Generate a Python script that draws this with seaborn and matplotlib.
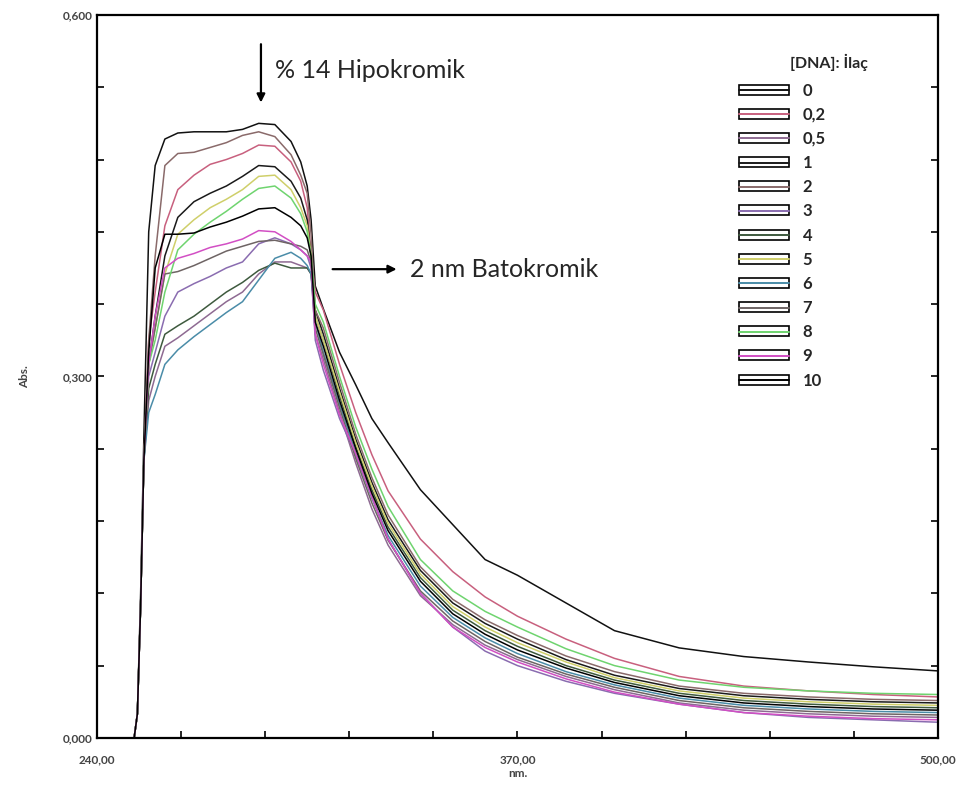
import numpy as np
import pandas as pd
import seaborn as sns
import matplotlib.pyplot as plt
from matplotlib.patches import Rectangle
from matplotlib.lines import Line2D

# wavelength grid (nm)
nm = [251.5, 252.5, 253.5, 254.5, 256, 258, 261, 265, 270, 275, 280, 285, 290, 295,
      300, 303, 305, 306.2, 307.5, 310, 315, 320, 325, 330, 340, 350, 360, 370, 385,
      400, 420, 440, 460, 480, 500]

# absorbance for each [DNA]:ilac ratio
abs_0 = [0, 0.02, 0.12, 0.25, 0.42, 0.475, 0.497, 0.502, 0.503, 0.503, 0.503, 0.505, 0.51, 0.509,
         0.495, 0.478, 0.458, 0.43, 0.375, 0.356, 0.320, 0.293, 0.265, 0.245, 0.206, 0.177, 0.148,
         0.135, 0.112, 0.089, 0.0747, 0.0675, 0.063, 0.059, 0.0556]
abs_02 = [0, 0.02, 0.11, 0.23, 0.33, 0.37, 0.425, 0.455, 0.467, 0.476, 0.48, 0.485, 0.492, 0.491,
          0.478, 0.462, 0.44, 0.40, 0.37, 0.355, 0.31, 0.27, 0.235, 0.205, 0.165, 0.138, 0.117,
          0.101, 0.082, 0.066, 0.051, 0.043, 0.039, 0.036, 0.034]
abs_05 = [0, 0.02, 0.11, 0.23, 0.28, 0.30, 0.325, 0.332, 0.342, 0.352, 0.362, 0.37, 0.385, 0.395,
          0.395, 0.392, 0.39, 0.385, 0.335, 0.314, 0.27, 0.228, 0.19, 0.16, 0.118, 0.094, 0.077,
          0.065, 0.051, 0.04, 0.029, 0.023, 0.020, 0.018, 0.017]
abs_1 = [0, 0.02, 0.11, 0.23, 0.31, 0.35, 0.40, 0.432, 0.445, 0.452, 0.458, 0.466, 0.475, 0.474,
         0.462, 0.448, 0.43, 0.40, 0.355, 0.335, 0.29, 0.248, 0.212, 0.181, 0.139, 0.112, 0.095,
         0.082, 0.065, 0.052, 0.041, 0.035, 0.032, 0.030, 0.029]
abs_2 = [0, 0.02, 0.11, 0.23, 0.33, 0.40, 0.475, 0.485, 0.486, 0.49, 0.494, 0.50, 0.503, 0.499,
         0.484, 0.467, 0.452, 0.418, 0.355, 0.34, 0.295, 0.252, 0.216, 0.185, 0.142, 0.115, 0.098,
         0.085, 0.068, 0.055, 0.043, 0.037, 0.034, 0.032, 0.031]
abs_3 = [0, 0.02, 0.11, 0.23, 0.30, 0.32, 0.35, 0.37, 0.377, 0.383, 0.39, 0.395, 0.41, 0.415,
         0.41, 0.405, 0.40, 0.39, 0.33, 0.305, 0.265, 0.235, 0.20, 0.165, 0.12, 0.092, 0.072,
         0.06, 0.047, 0.037, 0.028, 0.021, 0.017, 0.015, 0.013]
abs_4 = [0, 0.02, 0.11, 0.23, 0.29, 0.31, 0.335, 0.342, 0.35, 0.36, 0.37, 0.378, 0.388, 0.394,
         0.39, 0.39, 0.39, 0.385, 0.35, 0.33, 0.284, 0.242, 0.206, 0.175, 0.133, 0.106, 0.089,
         0.076, 0.060, 0.048, 0.037, 0.031, 0.028, 0.026, 0.025]
abs_5 = [0, 0.02, 0.11, 0.23, 0.31, 0.34, 0.385, 0.418, 0.43, 0.44, 0.447, 0.455, 0.466, 0.467,
         0.455, 0.44, 0.425, 0.40, 0.35, 0.33, 0.287, 0.245, 0.209, 0.178, 0.136, 0.109, 0.092,
         0.079, 0.063, 0.050, 0.039, 0.033, 0.030, 0.028, 0.027]
abs_6 = [0, 0.02, 0.11, 0.23, 0.27, 0.285, 0.31, 0.322, 0.333, 0.343, 0.353, 0.362, 0.38, 0.398,
         0.403, 0.398, 0.392, 0.385, 0.345, 0.32, 0.277, 0.236, 0.199, 0.168, 0.126, 0.1, 0.083,
         0.07, 0.055, 0.044, 0.033, 0.027, 0.024, 0.022, 0.021]
abs_7 = [0, 0.02, 0.11, 0.23, 0.31, 0.34, 0.385, 0.387, 0.392, 0.398, 0.404, 0.408, 0.412, 0.413,
         0.41, 0.408, 0.405, 0.395, 0.34, 0.318, 0.274, 0.232, 0.195, 0.164, 0.122, 0.097, 0.08,
         0.067, 0.053, 0.042, 0.031, 0.025, 0.022, 0.020, 0.019]
abs_8 = [0, 0.02, 0.11, 0.23, 0.31, 0.33, 0.37, 0.405, 0.418, 0.428, 0.437, 0.447, 0.456, 0.458,
         0.448, 0.435, 0.42, 0.40, 0.36, 0.345, 0.30, 0.258, 0.223, 0.192, 0.148, 0.122, 0.105,
         0.092, 0.074, 0.060, 0.048, 0.042, 0.039, 0.037, 0.036]
abs_9 = [0, 0.02, 0.11, 0.23, 0.31, 0.35, 0.39, 0.398, 0.402, 0.407, 0.41, 0.414, 0.421, 0.42,
         0.412, 0.405, 0.40, 0.395, 0.335, 0.31, 0.268, 0.236, 0.20, 0.165, 0.12, 0.092, 0.075,
         0.063, 0.049, 0.038, 0.028, 0.021, 0.018, 0.016, 0.015]
abs_10 = [0, 0.02, 0.11, 0.23, 0.32, 0.39, 0.418, 0.418, 0.419, 0.424, 0.428, 0.433, 0.439, 0.44,
          0.432, 0.425, 0.415, 0.40, 0.345, 0.325, 0.28, 0.24, 0.203, 0.172, 0.13, 0.103, 0.086,
          0.073, 0.058, 0.046, 0.035, 0.029, 0.026, 0.024, 0.023]

labels = ["0", "0,2", "0,5", "1", "2", "3", "4", "5", "6", "7", "8", "9", "10"]
series = [abs_0, abs_02, abs_05, abs_1, abs_2, abs_3, abs_4, abs_5, abs_6, abs_7, abs_8, abs_9, abs_10]
colors = ["#111111", "#c8607e", "#8e6a92", "#1a1a1a", "#8a6a6a", "#8a6cb0", "#3e5a3e",
          "#cfcf6a", "#4a8ca8", "#6e6464", "#6fd46f", "#d24fc4", "#000000"]

rows = []
for lab, vals in zip(labels, series):
    for x, y in zip(nm, vals):
        rows.append({"nm": x, "Abs": y, "oran": lab})
df = pd.DataFrame(rows)

sns.set_style("white")
plt.rcParams["font.family"] = ["Lato", "DejaVu Sans"]

fig = plt.figure(figsize=(9.6, 7.85), dpi=100)
ax = fig.add_axes([0.101, 0.06, 0.876, 0.921])

sns.lineplot(data=df, x="nm", y="Abs", hue="oran", hue_order=labels,
             palette=dict(zip(labels, colors)), linewidth=1.1, legend=False,
             sort=False, ax=ax)

ax.set_xlim(240, 500)
ax.set_ylim(0, 0.6)
ax.set_xticks(np.arange(240, 501, 26))
ax.set_xticklabels(["240,00", "", "", "", "", "370,00", "", "", "", "", "500,00"])
ax.set_yticks(np.arange(0, 0.61, 0.06))
ax.set_yticklabels(["0,000", "", "", "", "", "0,300", "", "", "", "", "0,600"])
ax.tick_params(axis="both", direction="in", length=5, width=1.2, labelsize=8.5,
               labelcolor="#444444", color="black")
ax.tick_params(axis="x", bottom=True, pad=12)
ax.tick_params(axis="y", left=True, right=True, pad=3)
for lab in ax.get_xticklabels() + ax.get_yticklabels():
    lab.set_fontweight("bold")
for s in ax.spines.values():
    s.set_color("black")
    s.set_linewidth(1.6)
ax.set_xlabel("nm.", fontsize=8.5, fontweight="bold", color="#444444", labelpad=2)
ax.set_ylabel("Abs.", fontsize=8.5, fontweight="bold", color="#444444", labelpad=24)

# annotations
ax.annotate("", xy=(290.7, 0.525), xytext=(290.7, 0.578),
            arrowprops=dict(arrowstyle="-|>", color="black", lw=1.6, mutation_scale=12))
ax.text(295.0, 0.554, "% 14 Hipokromik", fontsize=18, va="center", ha="left")
ax.annotate("", xy=(333.5, 0.389), xytext=(312.0, 0.389),
            arrowprops=dict(arrowstyle="-|>", color="black", lw=1.6, mutation_scale=12))
ax.text(336.8, 0.389, "2 nm Batokromik", fontsize=18, va="center", ha="left")

# legend: boxed swatches like the instrument software
handles = [(Rectangle((0, 0), 1, 1, facecolor="white", edgecolor="black", linewidth=1.2),
            Line2D([], [], color=c, linewidth=1.4)) for c in colors]
leg = ax.legend(handles, labels, loc="upper left", bbox_to_anchor=(0.754, 0.918),
                frameon=False, borderpad=0, fontsize=12, labelspacing=0.49,
                handlelength=3.0, handleheight=0.55, handletextpad=0.8)
for t in leg.get_texts():
    t.set_fontweight("bold")
fig.text(0.823, 0.92, "[DNA]: İlaç", fontsize=11.5, fontweight="bold", ha="left", va="center")

fig.savefig("out.png", dpi=100)
